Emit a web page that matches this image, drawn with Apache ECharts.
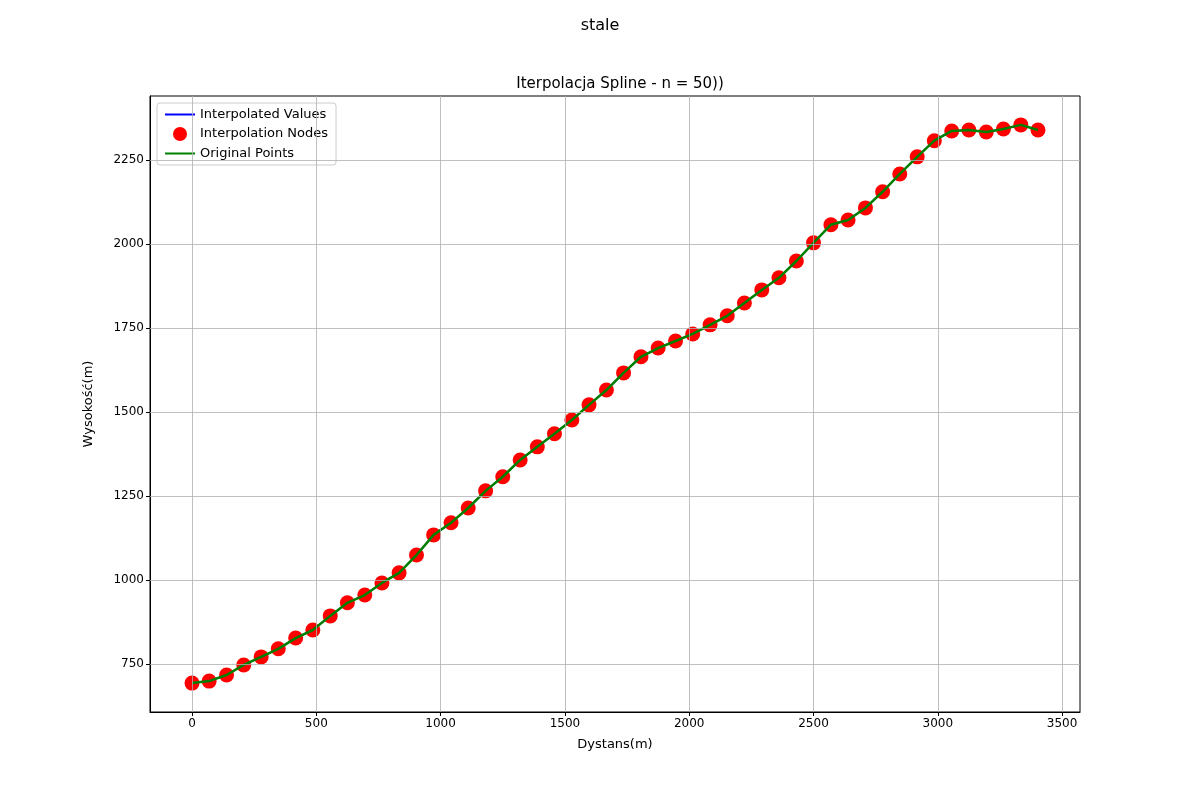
<!DOCTYPE html>
<html lang="en">
<head>
    <meta charset="UTF-8">
    <title>stale</title>
    <script src="https://cdn.jsdelivr.net/npm/echarts@6/dist/echarts.min.js"></script>
</head>
<body style="margin:0">
    <div id="main" style="width: 1200px;height: 800px"></div>
    <script type="application/javascript">
        var step = 69.45;
        var heights = [693, 699, 717, 747, 771, 795, 827, 851, 893, 932,
            955, 991, 1021, 1074, 1134, 1170, 1214, 1265, 1307, 1357,
            1396, 1435, 1476, 1521, 1565, 1616, 1664, 1690, 1711, 1732,
            1759, 1786, 1824, 1863, 1899, 1949, 2003, 2057, 2071, 2107,
            2155, 2208, 2259, 2307, 2336, 2339, 2333, 2342, 2354, 2339];
        var xTicks = [0, 500, 1000, 1500, 2000, 2500, 3000, 3500];
        var yTicks = [750, 1000, 1250, 1500, 1750, 2000, 2250];

        var points = [];
        for (var i = 0; i < heights.length; i++) {
            points.push([Math.round(i * step), heights[i]]);
        }

        var gridStyle = {color: '#b0b0b0', width: 0.8, type: 'solid'};
        var gridLines = [];
        xTicks.forEach(function (v) { gridLines.push({xAxis: v}); });
        yTicks.forEach(function (v) { gridLines.push({yAxis: v}); });

        var lineIcon = 'path://M0,0 L30,0 L30,2 L0,2 Z';

        var myChart = echarts.init(document.getElementById("main"));
        var option = {
            animation: false,
            textStyle: {fontFamily: 'DejaVu Sans', color: '#000'},
            title: [
                {text: 'stale', left: 'center', top: 13, textStyle: {fontSize: 16, fontWeight: 'normal', color: '#000'}},
                {text: 'Iterpolacja Spline - n = 50))', left: 615, textAlign: 'center', top: 72, textStyle: {fontSize: 15, fontWeight: 'normal', color: '#000'}}
            ],
            legend: {
                orient: 'vertical', left: 157, top: 103, padding: [5, 8],
                borderColor: '#ccc', borderWidth: 1, borderRadius: 3,
                itemGap: 6, itemWidth: 30, itemHeight: 14,
                textStyle: {fontSize: 13, color: '#000'},
                data: [
                    {name: 'Interpolated Values', icon: lineIcon, itemStyle: {color: 'blue'}},
                    {name: 'Interpolation Nodes', icon: 'circle', itemStyle: {color: 'red', opacity: 1}},
                    {name: 'Original Points', icon: lineIcon, itemStyle: {color: 'green'}}
                ]
            },
            grid: {left: 150, right: 120, top: 96, bottom: 88, show: true, borderColor: '#000', borderWidth: 1},
            xAxis: {
                type: 'value', min: -169, max: 3572,
                name: 'Dystans(m)', nameLocation: 'middle', nameGap: 26,
                nameTextStyle: {fontSize: 13, color: '#000'},
                axisLine: {onZero: false, lineStyle: {color: '#000'}},
                axisTick: {show: true, length: 4, customValues: xTicks, lineStyle: {color: '#000'}},
                axisLabel: {customValues: xTicks, fontSize: 12, color: '#000', margin: 6,
                    formatter: function (v) { return String(v); }},
                splitLine: {show: false}
            },
            yAxis: {
                type: 'value', min: 607, max: 2440,
                name: 'Wysokość(m)', nameLocation: 'middle', nameGap: 55,
                nameTextStyle: {fontSize: 13, color: '#000'},
                axisLine: {show: true, onZero: false, lineStyle: {color: '#000'}},
                axisTick: {show: true, length: 4, customValues: yTicks, lineStyle: {color: '#000'}},
                axisLabel: {customValues: yTicks, fontSize: 12, color: '#000', margin: 6,
                    formatter: function (v) { return String(v); }},
                splitLine: {show: false}
            },
            series: [
                {
                    name: 'grid', type: 'line', data: [], silent: true,
                    markLine: {symbol: 'none', silent: true, label: {show: false}, lineStyle: gridStyle, data: gridLines}
                },
                {
                    name: 'Interpolated Values', type: 'line', data: points, showSymbol: false,
                    lineStyle: {color: 'blue', width: 1.5}, itemStyle: {color: 'blue'}, z: 2
                },
                {
                    name: 'Interpolation Nodes', type: 'scatter', data: points, symbolSize: 15,
                    itemStyle: {color: 'red', opacity: 1}, z: 3
                },
                {
                    name: 'Original Points', type: 'line', data: points, showSymbol: false,
                    lineStyle: {color: 'green', width: 2.5}, itemStyle: {color: 'green'}, z: 4
                }
            ]
        };
        myChart.setOption(option, true);
    </script>
</body>
</html>
